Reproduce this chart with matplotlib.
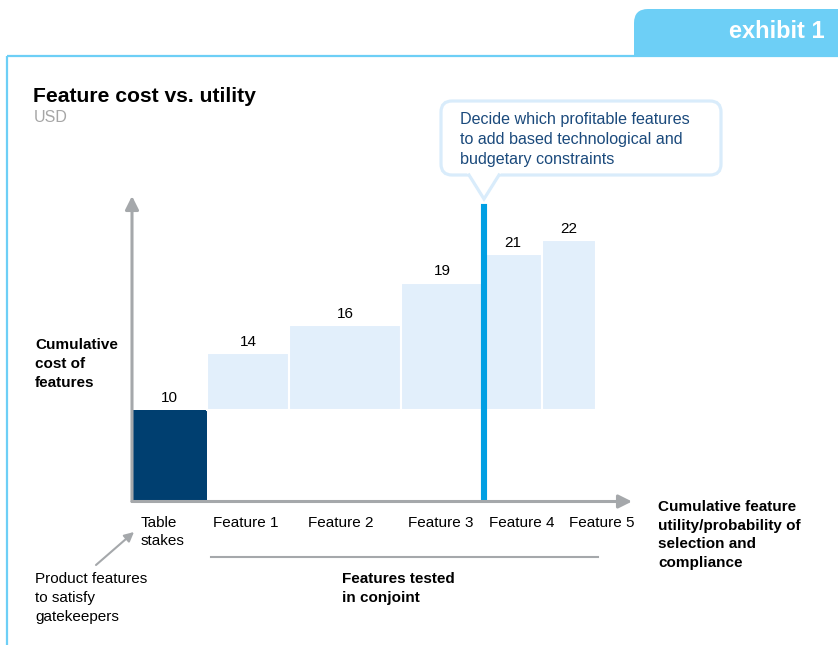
import numpy as np
import matplotlib
matplotlib.use("Agg")
import matplotlib.pyplot as plt
from matplotlib.patches import FancyBboxPatch, Polygon, Rectangle

plt.rcParams['font.family'] = ['Liberation Sans', 'DejaVu Sans']

# data
categories = ["Table\nstakes", "Feature 1", "Feature 2", "Feature 3", "Feature 4", "Feature 5"]
cost = np.array([10, 14, 16, 19, 21, 22])          # cumulative cost, USD
utility = np.array([7.5, 8.2, 11.2, 8.25, 5.8, 5.4])  # utility added by each feature
decision_after = 4   # line drawn after the first 4 blocks

# colours
FRAME = '#6dcff6'
NAVY = '#003f70'
LIGHT = '#e2effb'
LINE_BLUE = '#009fe3'
GRAY = '#a5a8ab'
CALLOUT_EDGE = '#d9ecfb'
CALLOUT_TEXT = '#1b4a7c'

W, H = 838, 645
fig = plt.figure(figsize=(W / 100, H / 100), dpi=100)

# background layer in pixel coordinates
bg = fig.add_axes([0, 0, 1, 1])
bg.set_xlim(0, W)
bg.set_ylim(H, 0)
bg.axis('off')

# tab + frame
bg.add_patch(FancyBboxPatch((634, 9), 260, 70, boxstyle="round,pad=0,rounding_size=14",
                            facecolor=FRAME, edgecolor='none'))
bg.add_patch(Rectangle((630, 55.5), 220, 40, facecolor='white', edgecolor='none'))
bg.plot([7, W], [55.5, 55.5], color=FRAME, lw=1.6, solid_capstyle='butt')
bg.plot([7, 7], [55.5, H], color=FRAME, lw=1.6, solid_capstyle='butt')
bg.text(777, 32, "exhibit 1", color='white', fontsize=17, fontweight='bold',
        ha='center', va='center')

# title
bg.text(33, 96, "Feature cost vs. utility", fontsize=15.2, fontweight='bold',
        ha='left', va='center', color='black')
bg.text(34, 117, "USD", fontsize=11.5, color='#a6a6a6', ha='left', va='center')

# callout
bg.add_patch(FancyBboxPatch((441, 101), 280, 74, boxstyle="round,pad=0,rounding_size=11",
                            facecolor='white', edgecolor=CALLOUT_EDGE, lw=2.3, zorder=2))
bg.add_patch(Polygon([(467, 173), (484, 199), (501, 173)], closed=True,
                     facecolor='white', edgecolor='none', zorder=3))
bg.plot([469, 484, 499], [175, 199, 175], color=CALLOUT_EDGE, lw=2.3, zorder=4,
        solid_joinstyle='miter')
bg.text(460, 139.5, "Decide which profitable features\nto add based technological and\nbudgetary constraints",
        color=CALLOUT_TEXT, fontsize=11.6, ha='left', va='center', linespacing=1.38)

# side labels
bg.text(35, 364, "Cumulative\ncost of\nfeatures", fontsize=11, fontweight='bold',
        ha='left', va='center', linespacing=1.42)
bg.text(658, 535, "Cumulative feature\nutility/probability of\nselection and\ncompliance",
        fontsize=11, fontweight='bold', ha='left', va='center', linespacing=1.42)
bg.plot([211, 598], [557, 557], color=GRAY, lw=1.5)
bg.text(342, 588.5, "Features tested\nin conjoint", fontsize=11, fontweight='bold',
        ha='left', va='center', linespacing=1.42)
bg.text(35, 598, "Product features\nto satisfy\ngatekeepers", fontsize=11,
        ha='left', va='center', linespacing=1.42)
bg.annotate('', xy=(134, 532), xytext=(96, 565),
            arrowprops=dict(arrowstyle='-|>', color=GRAY, lw=1.5, mutation_scale=14,
                            shrinkA=0, shrinkB=0))

# chart axes
x0, x1, yb, yt = 132, 632, 501.5, 196
ax = fig.add_axes([x0 / W, (H - yb) / H, (x1 - x0) / W, (yb - yt) / H])
ax.set_facecolor('none')
ax.set_xlim(0, 50)
ax.set_ylim(3.48, 25.14)
for s in ax.spines.values():
    s.set_visible(False)
ax.set_xticks([])
ax.set_yticks([])

lefts = np.concatenate([[0], np.cumsum(utility)[:-1]])
centers = lefts + utility / 2

# table stakes (clipped at the axis)
ax.bar(lefts[0], cost[0], width=utility[0], align='edge', color=NAVY, zorder=2)
# features stacked on top of table stakes
ax.bar(lefts[1:], cost[1:] - cost[0], bottom=cost[0], width=utility[1:], align='edge',
       color=LIGHT, edgecolor='white', lw=1.5, zorder=2)

for c, v in zip(centers, cost):
    ax.annotate(str(v), xy=(c, v), xytext=(0, 3), textcoords='offset points',
                ha='center', va='bottom', fontsize=11)

# decision line
ax.axvline(np.cumsum(utility)[decision_after - 1], ymin=0, ymax=0.963,
           color=LINE_BLUE, lw=4.4, zorder=3)

# axis arrows
ax.annotate('', xy=(0, 1), xytext=(0, 0), xycoords='axes fraction',
            arrowprops=dict(arrowstyle='-|>', color=GRAY, lw=2.2, mutation_scale=20,
                            shrinkA=0, shrinkB=0), zorder=4)
ax.annotate('', xy=(1, 0), xytext=(0, 0), xycoords='axes fraction',
            arrowprops=dict(arrowstyle='-|>', color=GRAY, lw=2.2, mutation_scale=20,
                            shrinkA=0, shrinkB=0), zorder=4)

# category labels under the axis
tick_x = [0.9, 11.4, 20.9, 30.9, 39.0, 47.0]
trans = ax.get_xaxis_transform()
for i, (tx, lab) in enumerate(zip(tick_x, categories)):
    ax.text(tx, -0.07 if i else -0.1, lab, transform=trans, fontsize=11,
            ha='left' if i == 0 else 'center', va='center', linespacing=1.42)

fig.savefig("out.png", dpi=100)
